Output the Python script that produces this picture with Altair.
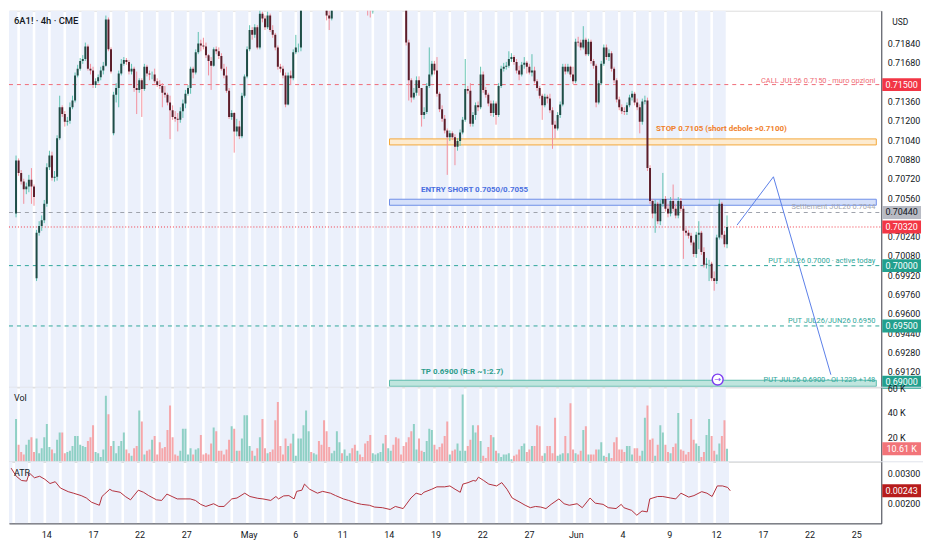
import altair as alt
import pandas as pd

# ---------------- data ----------------
CLOSE = [
0.70872,0.70768,0.70696,0.70632,0.70656,0.70712,0.70656,0.70568,0.70272,0.70328,
0.70376,0.70512,0.70816,0.70912,0.70728,0.70736,0.71056,0.71312,0.71256,0.71192,
0.71200,0.71312,0.71368,0.71576,0.71632,0.71696,0.71712,0.71816,0.71632,0.71616,
0.71496,0.71528,0.71560,0.71616,0.71656,0.72040,0.71792,0.71608,0.71416,0.71472,
0.71592,0.71672,0.71704,0.71688,0.71608,0.71632,0.71472,0.71456,0.71536,0.71464,
0.71648,0.71592,0.71584,0.71584,0.71528,0.71496,0.71488,0.71432,0.71416,0.71352,
0.71288,0.71232,0.71216,0.71208,0.71280,0.71344,0.71424,0.71472,0.71632,0.71600,
0.71768,0.71840,0.71824,0.71816,0.71744,0.71696,0.71656,0.71792,0.71776,0.71736,
0.71632,0.71576,0.71448,0.71232,0.71264,0.71112,0.71152,0.71072,0.71408,0.71568,
0.71792,0.71952,0.71912,0.71976,0.71808,0.72088,0.72048,0.71976,0.72072,0.71952,
0.71912,0.71808,0.71648,0.71632,0.71576,0.71336,0.71576,0.71552,0.71768,0.71808,
0.71808,0.72152,0.72232,0.72312,0.72352,0.72288,0.72336,0.72392,0.72312,0.72256,
0.72192,0.72072,0.72048,0.72152,0.72208,0.72272,0.72336,0.72288,0.72352,0.72392,
0.72432,0.72368,0.72312,0.72352,0.72272,0.72232,0.72176,0.72136,0.72112,0.72176,
0.72232,0.72288,0.72352,0.72392,0.72336,0.72376,0.72432,0.72392,0.72352,0.72312,
0.72272,0.72208,0.71848,0.71536,0.71392,0.71432,0.71536,0.71472,0.71248,0.71272,
0.71488,0.71584,0.71672,0.71616,0.71424,0.71296,0.71216,0.71120,0.71064,0.71096,
0.71064,0.70984,0.71032,0.71104,0.71208,0.71464,0.71448,0.71176,0.71248,0.71328,
0.71312,0.71584,0.71456,0.71416,0.71344,0.71264,0.71344,0.71248,0.71488,0.71632,
0.71648,0.71656,0.71712,0.71728,0.71688,0.71616,0.71584,0.71664,0.71680,0.71648,
0.71600,0.71616,0.71528,0.71472,0.71408,0.71328,0.71400,0.71384,0.71288,0.71168,
0.71136,0.71248,0.71336,0.71648,0.71608,0.71648,0.71584,0.71528,0.71856,0.71848,
0.71808,0.71872,0.71752,0.71856,0.71696,0.71656,0.71352,0.71512,0.71672,0.71808,
0.71728,0.71760,0.71632,0.71536,0.71376,0.71312,0.71280,0.71272,0.71328,0.71392,
0.71424,0.71352,0.71312,0.71192,0.71360,0.71368,0.70808,0.70536,0.70432,0.70512,
0.70368,0.70512,0.70552,0.70472,0.70432,0.70536,0.70472,0.70416,0.70536,0.70472,
0.70288,0.70272,0.70248,0.70192,0.70096,0.70256,0.70272,0.70112,0.70008,0.70016,
0.70016,0.69896,0.69872,0.70232,0.70512,0.70256,0.70176,0.70320]

HIGH = [
0.70912,0.70888,0.70792,0.70720,0.70688,0.70752,0.70808,0.70672,0.70296,0.70368,
0.70416,0.70544,0.70848,0.70952,0.70944,0.70784,0.71080,0.71408,0.71328,0.71280,
0.71232,0.71352,0.71408,0.71600,0.71664,0.71720,0.71744,0.71848,0.71832,0.71672,
0.71648,0.71552,0.71584,0.71648,0.71688,0.72072,0.72056,0.71808,0.71440,0.71512,
0.71616,0.71712,0.71728,0.71720,0.71704,0.71672,0.71648,0.71608,0.71552,0.71552,
0.71672,0.71664,0.71616,0.71608,0.71632,0.71552,0.71536,0.71512,0.71488,0.71432,
0.71408,0.71328,0.71280,0.71264,0.71312,0.71376,0.71456,0.71496,0.71648,0.71648,
0.71792,0.71936,0.71872,0.71888,0.71848,0.71752,0.71728,0.71808,0.71816,0.71808,
0.71760,0.71672,0.71648,0.71472,0.71288,0.71272,0.71216,0.71200,0.71432,0.71584,
0.71816,0.71992,0.71976,0.72000,0.71992,0.72128,0.72104,0.72072,0.72104,0.72088,
0.71992,0.71928,0.71824,0.71672,0.71656,0.71600,0.71600,0.71616,0.71792,0.71912,
0.71840,0.72192,0.72272,0.72352,0.72400,0.72368,0.72376,0.72432,0.72416,0.72336,
0.72272,0.72208,0.72112,0.72192,0.72256,0.72320,0.72376,0.72368,0.72400,0.72448,
0.72480,0.72464,0.72400,0.72384,0.72368,0.72304,0.72256,0.72208,0.72176,0.72208,
0.72272,0.72336,0.72392,0.72432,0.72432,0.72416,0.72472,0.72480,0.72432,0.72384,
0.72352,0.72304,0.72224,0.71872,0.71552,0.71472,0.71568,0.71568,0.71472,0.71312,
0.71512,0.71808,0.71696,0.71696,0.71728,0.71440,0.71328,0.71248,0.71136,0.71120,
0.71112,0.71088,0.71056,0.71128,0.71232,0.71712,0.71488,0.71512,0.71272,0.71352,
0.71360,0.71648,0.71608,0.71480,0.71432,0.71368,0.71368,0.71360,0.71512,0.71656,
0.71680,0.71688,0.71776,0.71760,0.71744,0.71712,0.71656,0.71688,0.71728,0.71696,
0.71672,0.71752,0.71648,0.71544,0.71488,0.71424,0.71424,0.71416,0.71424,0.71312,
0.71200,0.71272,0.71360,0.71672,0.71672,0.71672,0.71656,0.71648,0.71880,0.71896,
0.71872,0.71984,0.71888,0.71880,0.71872,0.71712,0.71672,0.71536,0.71696,0.71832,
0.71832,0.71792,0.71776,0.71648,0.71552,0.71400,0.71336,0.71312,0.71352,0.71416,
0.71448,0.71440,0.71384,0.71336,0.71384,0.71408,0.71392,0.70832,0.70552,0.70544,
0.70528,0.70544,0.70768,0.70576,0.70512,0.70568,0.70672,0.70512,0.70568,0.70560,
0.70496,0.70312,0.70296,0.70272,0.70208,0.70280,0.70368,0.70288,0.70152,0.70064,
0.70048,0.70032,0.69952,0.70256,0.70552,0.70528,0.70288,0.70416]

LOW = [
0.70400,0.70744,0.70672,0.70512,0.70592,0.70608,0.70512,0.70496,0.69872,0.70248,
0.70288,0.70352,0.70488,0.70792,0.70704,0.70696,0.70704,0.71040,0.71232,0.71152,
0.71160,0.71176,0.71296,0.71352,0.71560,0.71616,0.71672,0.71696,0.71616,0.71584,
0.71472,0.71472,0.71512,0.71536,0.71584,0.71648,0.71776,0.71592,0.71080,0.71352,
0.71312,0.71576,0.71656,0.71664,0.71584,0.71584,0.71440,0.71256,0.71432,0.71232,
0.71448,0.71568,0.71536,0.71544,0.71512,0.71480,0.71464,0.71312,0.71392,0.71328,
0.71048,0.71208,0.71192,0.71112,0.71184,0.71224,0.71304,0.71408,0.71424,0.71552,
0.71584,0.71752,0.71776,0.71792,0.71720,0.71576,0.71456,0.71648,0.71752,0.71712,
0.71616,0.71552,0.71432,0.71216,0.71208,0.70936,0.71072,0.71048,0.71056,0.71392,
0.71552,0.71776,0.71872,0.71888,0.71792,0.71792,0.72016,0.71952,0.71960,0.71936,
0.71888,0.71784,0.71624,0.71600,0.71552,0.71312,0.71328,0.71496,0.71536,0.71752,
0.71768,0.71776,0.72136,0.72208,0.72288,0.72256,0.72256,0.72312,0.72272,0.72208,
0.72152,0.72032,0.71952,0.72032,0.72128,0.72176,0.72240,0.72240,0.72232,0.72320,
0.72352,0.72336,0.72272,0.72272,0.72232,0.72192,0.72136,0.72072,0.72056,0.72088,
0.72144,0.72192,0.72256,0.72312,0.72304,0.72288,0.72336,0.72352,0.72312,0.72272,
0.72224,0.72160,0.71824,0.71368,0.71352,0.71376,0.71408,0.71408,0.71152,0.71216,
0.71256,0.71472,0.71568,0.71584,0.71400,0.71272,0.71192,0.71096,0.70752,0.71032,
0.71040,0.70832,0.70952,0.70992,0.71088,0.71192,0.71424,0.71152,0.71152,0.71208,
0.71280,0.71296,0.71432,0.71392,0.71320,0.71240,0.71232,0.71168,0.71232,0.71472,
0.71608,0.71624,0.71640,0.71688,0.71664,0.71592,0.71536,0.71568,0.71632,0.71592,
0.71584,0.71568,0.71512,0.71448,0.71384,0.71208,0.71312,0.71344,0.71264,0.70968,
0.71056,0.71120,0.71224,0.71320,0.71584,0.71592,0.71560,0.71504,0.71512,0.71816,
0.71784,0.71792,0.71736,0.71736,0.71672,0.71632,0.71312,0.71336,0.71496,0.71656,
0.71704,0.71696,0.71608,0.71512,0.71352,0.71288,0.71256,0.71248,0.71248,0.71312,
0.71368,0.71328,0.71288,0.71096,0.71168,0.71336,0.70784,0.70512,0.70392,0.70272,
0.70344,0.70336,0.70488,0.70448,0.70400,0.70408,0.70448,0.70392,0.70392,0.70448,
0.70056,0.70248,0.70224,0.70168,0.70072,0.70064,0.70136,0.70088,0.69984,0.69976,
0.69872,0.69872,0.69792,0.69848,0.70216,0.70224,0.70152,0.70144]

# opens after the weekend gaps (others open at the previous close)
OPEN_GAPS = {0: 0.70432, 8: 0.69896, 38: 0.71096, 128: 0.72272}

VOLUME_K = [
35,14,8,6,14,18,20,8,19,7, 11,20,31,12,10,7,18,24,24,7,
8,9,13,21,21,14,13,12,17,20, 30,8,7,4,10,54,39,13,17,7,
13,17,24,10,7,5,11,13,42,33, 6,9,10,18,21,6,16,11,12,26,
46,20,6,5,9,27,27,6,11,6, 10,11,22,6,7,6,15,28,25,9,
9,6,10,18,29,27,9,9,19,38, 38,13,9,5,11,20,35,11,7,8,
10,34,49,13,6,19,13,15,23,5, 19,19,30,42,25,8,7,6,17,14,
34,25,12,7,9,25,16,7,10,5, 7,11,14,9,6,4,15,17,22,
7,6,7,8,15,22,11,9,14,20, 19,6,13,16,20,25,31,10,19,9,
8,17,27,26,14,10,12,15,21,33, 6,9,10,15,9,55,9,13,18,30,
24,30,17,5,3,12,22,20,9,7, 4,6,6,7,2,5,6,10,13,15,
8,10,13,13,30,29,5,7,13,13, 7,36,5,6,7,21,7,48,10,7,
6,9,26,29,6,6,6,10,10,16, 5,4,7,3,16,20,10,10,8,13,
13,6,11,11,5,9,36,46,18,19, 5,14,30,24,14,8,7,12,15,40,
10,9,6,8,35,18,15,13,4,8, 22,35,21,9,6,15,21,34,10.61]

ATR_BAR = [0,2,4,6,7,9,11,13,15,17,19,22,24,27,29,31,34,35,36,38,
           39,42,44,46,49,51,53,56,58,60,62,64,67,69,71,73,75,78,80,82,
           85,87,90,92,95,97,100,102,103,105,107,109,110,112,113,115,118,120,123,125,
           128,130,133,135,138,140,
           143,146,148,151,154,156,158,159,162,164,167,169,171,173,174,176,178,179,180,182,
           184,187,189,191,193,196,198,200,202,204,206,208,211,213,215,218,220,223,225,228,
           230,233,235,236,239,241,243,245,246,249,251,254,256,258,261,263,266,268,270,272,
           274,276,277]
ATR_VAL = [0.00318,0.00291,0.00277,0.00275,0.00302,0.00286,0.00291,0.00281,0.00267,0.00273,
           0.00252,0.00240,0.00235,0.00227,0.00219,0.00205,0.00195,0.00224,0.00232,0.00248,
           0.00243,0.00238,0.00224,0.00213,0.00245,0.00238,0.00227,0.00213,0.00211,0.00232,
           0.00224,0.00216,0.00216,0.00216,0.00211,0.00198,0.00191,0.00200,0.00191,0.00191,
           0.00216,0.00219,0.00235,0.00224,0.00218,0.00216,0.00211,0.00224,0.00216,0.00226,
           0.00227,0.00216,0.00241,0.00245,0.00265,0.00248,0.00235,0.00241,0.00235,0.00227,
           0.00216,0.00211,0.00202,0.00198,0.00195,0.00189,
           0.00187,0.00181,0.00191,0.00184,0.00219,0.00235,0.00230,0.00238,0.00248,0.00256,
           0.00256,0.00259,0.00248,0.00238,0.00265,0.00270,0.00277,0.00275,0.00288,0.00277,
           0.00265,0.00259,0.00270,0.00248,0.00219,0.00205,0.00195,0.00187,0.00191,0.00189,
           0.00184,0.00198,0.00216,0.00200,0.00195,0.00200,0.00187,0.00219,0.00202,0.00198,
           0.00187,0.00184,0.00198,0.00187,0.00178,0.00162,0.00176,0.00173,0.00216,0.00224,
           0.00224,0.00219,0.00216,0.00235,0.00222,0.00227,0.00240,0.00235,0.00224,0.00259,
           0.00259,0.00254,0.00243]

# trading-day index: 0 = Apr 9 ... 46 = Jun 12, future days follow
TICK_DAYS = [3, 6, 9, 12, 16, 19, 22, 25, 28, 31, 34, 37, 40, 43, 46, 49, 52, 55]
TICK_LABELS = ["14", "17", "22", "27", "May", "6", "11", "14", "19", "22", "27",
               "Jun", "4", "9", "12", "17", "22", "25"]
PRICE_TICKS = [0.6912, 0.6928, 0.6944, 0.6960, 0.6976, 0.6992, 0.7008, 0.7024,
               0.7056, 0.7072, 0.7088, 0.7104, 0.7120, 0.7136, 0.7168, 0.7184]
SESSION_DAYS = list(range(0, 47))
ZONE_START_DAY = 25

ZONES = [("stop", 0.7100, 0.7105), ("entry", 0.7050, 0.7055), ("tp", 0.6900, 0.6905)]
CALL_LEVEL = 0.7150
SETTLE_LEVEL = 0.7044
LAST_PRICE = 0.7032
PUT_LEVELS = [0.7000, 0.6950]
PROJ_DAY = [47.57, 49.93, 53.66]
PROJ_PRICE = [0.70336, 0.70736, 0.69096]
ICON_DAY, ICON_PRICE = 46.31, 0.69056
LAST_VOL_K = 10.61
LAST_ATR = 0.00243

# ---------------- layout / style ----------------
W = 878
H_PRICE, H_VOL, H_ATR = 379, 75, 62
X_DOMAIN = [0.615, 56.61]
P_DOMAIN = [0.68992, 0.72112]
V_DOMAIN = [0, 61]
A_DOMAIN = [0.00135, 0.00339]
FONT = "Roboto"
TXT = "#131722"
AXC = "#434651"
STRIPE = "#ebf0fb"
UP_BODY, DN_BODY = "#1f4d47", "#5c1e2b"
UP_WICK, DN_WICK = "#5fc1b0", "#f28f9c"
VOL_UP, VOL_DN = "#8fd0c5", "#f5a6aa"
RED, TEAL = "#f23645", "#22a08e"


def bar_x(j):
    k = j + 4
    return k // 6 + (k % 6 + 0.5) / 6


n = min(len(CLOSE), len(HIGH), len(LOW), len(VOLUME_K))
rows = []
for j in range(n):
    o = OPEN_GAPS.get(j, CLOSE[j - 1] if j > 0 else CLOSE[0])
    c = CLOSE[j]
    up = c >= o
    rows.append(dict(x=bar_x(j), o=o, h=HIGH[j], l=LOW[j], c=c, v=VOLUME_K[j],
                     wick=UP_WICK if up else DN_WICK,
                     body=UP_BODY if up else DN_BODY,
                     vcol=VOL_UP if up else VOL_DN))
bars = pd.DataFrame(rows)
atr = pd.DataFrame({"x": [bar_x(j) for j in ATR_BAR], "a": ATR_VAL})
stripes = pd.DataFrame({"d": SESSION_DAYS, "d2": [d + 5 / 6 for d in SESSION_DAYS]})

xs = alt.Scale(domain=X_DOMAIN, nice=False, zero=False)
ps = alt.Scale(domain=P_DOMAIN, nice=False, zero=False)
vs = alt.Scale(domain=V_DOMAIN, nice=False, zero=True)
ats = alt.Scale(domain=A_DOMAIN, nice=False, zero=False)

axis_common = dict(orient="right", title=None, grid=False, ticks=False, domain=True,
                   domainColor=AXC, labelColor=TXT, labelFont=FONT, labelFontSize=9,
                   labelPadding=6, labelOverlap=False, labelFlush=False)
PAX = alt.Axis(values=PRICE_TICKS, format=".5f", **axis_common)
VAX = alt.Axis(values=[20, 40, 60], labelExpr="datum.value + ' K'", **axis_common)
AAX = alt.Axis(values=[0.002, 0.003], format=".5f", **axis_common)
label_expr = ("[" + ",".join("'%s'" % s for s in TICK_LABELS) + "][indexof(["
              + ",".join(str(v) for v in TICK_DAYS) + "], datum.value)]")
XAX = alt.Axis(values=TICK_DAYS, labelExpr=label_expr, title=None, grid=False, ticks=False,
               domain=True, domainColor=AXC, labelColor=TXT, labelFont=FONT,
               labelFontSize=9, labelPadding=7, labelFlush=False, labelOverlap=False)


def stripe_layer(h, xaxis=None):
    return alt.Chart(stripes).mark_rect(clip=True, color=STRIPE).encode(
        x=alt.X("d:Q", scale=xs, axis=xaxis), x2="d2:Q",
        y=alt.value(0), y2=alt.value(h))


def one(**kw):
    return alt.Chart(pd.DataFrame([kw]))


def separator(h):
    return one(k=1).mark_rule(color="#e0e3eb", strokeWidth=1).encode(
        x=alt.value(0), x2=alt.value(W + 42), y=alt.value(h))


def hline(level, color, dash):
    return one(p=level).mark_rule(color=color, strokeWidth=1, strokeDash=dash).encode(
        x=alt.value(0), x2=alt.value(W), y=alt.Y("p:Q", scale=ps, axis=PAX))


def tag(level, text, bg, fg, ys=0, scale=ps, axis=PAX):
    r = one(p=level).mark_rect(color=bg, yOffset=-6.5 + ys, y2Offset=6.5 + ys).encode(
        x=alt.value(W + 1), x2=alt.value(W + 40),
        y=alt.Y("p:Q", scale=scale, axis=axis), y2="p:Q")
    t = one(p=level, t=text).mark_text(color=fg, font=FONT, fontSize=9, align="center",
                                       baseline="middle", dy=ys).encode(
        x=alt.value(W + 20.5), y=alt.Y("p:Q", scale=scale, axis=axis), text="t:N")
    return r + t


# ---------------- price pane ----------------
zone_style = {"stop": ("#fdebd0", "#f4a83a"), "entry": ("#d5e0fa", "#6f8fe8"),
              "tp": ("#bfe5de", "#5dbbab")}
zdf = pd.DataFrame([dict(x1=ZONE_START_DAY, x2=X_DOMAIN[1], p1=a, p2=b,
                         fill=zone_style[k][0], stroke=zone_style[k][1])
                    for k, a, b in ZONES])
zones = alt.Chart(zdf).mark_rect(clip=True, strokeWidth=1).encode(
    x=alt.X("x1:Q", scale=xs, axis=None), x2="x2:Q",
    y=alt.Y("p1:Q", scale=ps, axis=PAX), y2="p2:Q",
    fill=alt.Fill("fill:N", scale=None), stroke=alt.Stroke("stroke:N", scale=None))

lines = (hline(CALL_LEVEL, "#f06c78", [4, 4]) + hline(SETTLE_LEVEL, "#9ea2ab", [4, 4])
         + hline(LAST_PRICE, RED, [1, 2])
         + hline(PUT_LEVELS[0], "#2ea69a", [4, 4]) + hline(PUT_LEVELS[1], "#2ea69a", [4, 4]))

base = alt.Chart(bars)
wicks = base.mark_rule(clip=True, strokeWidth=1).encode(
    x=alt.X("x:Q", scale=xs, axis=None), y=alt.Y("l:Q", scale=ps, axis=PAX), y2="h:Q",
    color=alt.Color("wick:N", scale=None))
bodies = base.mark_bar(clip=True, size=2).encode(
    x=alt.X("x:Q", scale=xs, axis=None), y=alt.Y("o:Q", scale=ps, axis=PAX), y2="c:Q",
    color=alt.Color("body:N", scale=None))

proj = alt.Chart(pd.DataFrame({"d": PROJ_DAY, "p": PROJ_PRICE})).mark_line(
    color="#5b7fe8", strokeWidth=1).encode(
    x=alt.X("d:Q", scale=xs, axis=None), y=alt.Y("p:Q", scale=ps, axis=PAX))

right_labels = pd.DataFrame([
    dict(p=0.71528, t="CALL JUL26 0.7150 · muro opzioni", col="#ef6a74"),
    dict(p=0.70488, t="Settlement JUL26 0.7044", col="#a3a6af"),
    dict(p=0.70042, t="PUT JUL26 0.7000 · active today", col="#2ea69a"),
    dict(p=0.69544, t="PUT JUL26/JUN26 0.6950", col="#2ea69a"),
    dict(p=0.69048, t="PUT JUL26 0.6900 - OI 1229 +148", col="#2ea69a"),
])
rlab = alt.Chart(right_labels).mark_text(font=FONT, fontSize=7.5, align="right",
                                         baseline="middle").encode(
    x=alt.value(W - 6), y=alt.Y("p:Q", scale=ps, axis=PAX), text="t:N",
    color=alt.Color("col:N", scale=None))

left_labels = pd.DataFrame([
    dict(d=42.3, p=0.71128, t="STOP 0.7105 (short debole >0.7100)", col="#f07f2a"),
    dict(d=27.04, p=0.70624, t="ENTRY SHORT 0.7050/0.7055", col="#4a6fe0"),
    dict(d=27.04, p=0.69118, t="TP 0.6900  (R:R ~1:2.7)", col="#2c9c8a"),
])
llab = alt.Chart(left_labels).mark_text(font=FONT, fontSize=8, fontWeight="bold",
                                        align="left", baseline="middle").encode(
    x=alt.X("d:Q", scale=xs, axis=None), y=alt.Y("p:Q", scale=ps, axis=PAX), text="t:N",
    color=alt.Color("col:N", scale=None))

icon = one(d=ICON_DAY, p=ICON_PRICE).mark_point(
    shape="circle", size=120, filled=False, stroke="#7c3cf0", strokeWidth=1.4,
    fill="white", fillOpacity=1).encode(
    x=alt.X("d:Q", scale=xs, axis=None), y=alt.Y("p:Q", scale=ps, axis=PAX))
icon_t = one(d=ICON_DAY, p=ICON_PRICE, t="→").mark_text(
    color="#7c3cf0", fontSize=8, font="DejaVu Sans", baseline="middle", align="center").encode(
    x=alt.X("d:Q", scale=xs, axis=None), y=alt.Y("p:Q", scale=ps, axis=PAX), text="t:N")

title = one(t="6A1! · 4h · CME").mark_text(font=FONT, fontSize=9.5, fontWeight=500,
                                           color=TXT, align="left", baseline="middle").encode(
    x=alt.value(5), y=alt.value(10), text="t:N")
usd = one(t="USD").mark_text(font=FONT, fontSize=8.5, color=TXT, align="left",
                             baseline="middle").encode(
    x=alt.value(W + 11), y=alt.value(11), text="t:N")

tags = (tag(CALL_LEVEL, "0.71500", RED, "white")
        + tag(SETTLE_LEVEL, "0.70440", "#b8bbc4", TXT)
        + tag(LAST_PRICE, "0.70320", RED, "white")
        + tag(PUT_LEVELS[0], "0.70000", TEAL, "white")
        + tag(PUT_LEVELS[1], "0.69500", TEAL, "white")
        + tag(0.6900, "0.69000", TEAL, "white", ys=-4))

price = alt.layer(stripe_layer(H_PRICE), zones, lines, wicks, bodies, proj, rlab, llab,
                  icon, icon_t, title, usd, tags, separator(H_PRICE)).properties(
    width=W, height=H_PRICE)

# ---------------- volume pane ----------------
vbars = base.mark_bar(clip=True, size=2).encode(
    x=alt.X("x:Q", scale=xs, axis=None), y=alt.Y("v:Q", scale=vs, axis=VAX),
    color=alt.Color("vcol:N", scale=None))
vlab = one(t="Vol").mark_text(font=FONT, fontSize=9, color=TXT, align="left",
                              baseline="middle").encode(x=alt.value(5), y=alt.value(11), text="t:N")
vol = alt.layer(stripe_layer(H_VOL), vbars, vlab,
                tag(LAST_VOL_K, "10.61 K", "#f27479", "white", scale=vs, axis=VAX),
                separator(H_VOL)).properties(width=W, height=H_VOL)

# ---------------- ATR pane ----------------
aline = alt.Chart(atr).mark_line(clip=True, color="#b3303c", strokeWidth=1).encode(
    x=alt.X("x:Q", scale=xs, axis=XAX), y=alt.Y("a:Q", scale=ats, axis=AAX))
alab = one(t="ATR").mark_text(font=FONT, fontSize=9, color=TXT, align="left",
                              baseline="middle").encode(x=alt.value(5), y=alt.value(11), text="t:N")
atr_pane = alt.layer(stripe_layer(H_ATR, XAX), aline, alab,
                     tag(LAST_ATR, "0.00243", "#b71c1c", "white", scale=ats, axis=AAX)
                     ).properties(width=W, height=H_ATR)

chart = alt.vconcat(price, vol, atr_pane, spacing=0, bounds="flush").properties(
    padding={"left": 0, "top": 0, "right": 0, "bottom": 0}
).configure_view(stroke=None).configure(font=FONT, background="white")

chart.save("out.html", embed_options={"renderer": "svg", "actions": False})
